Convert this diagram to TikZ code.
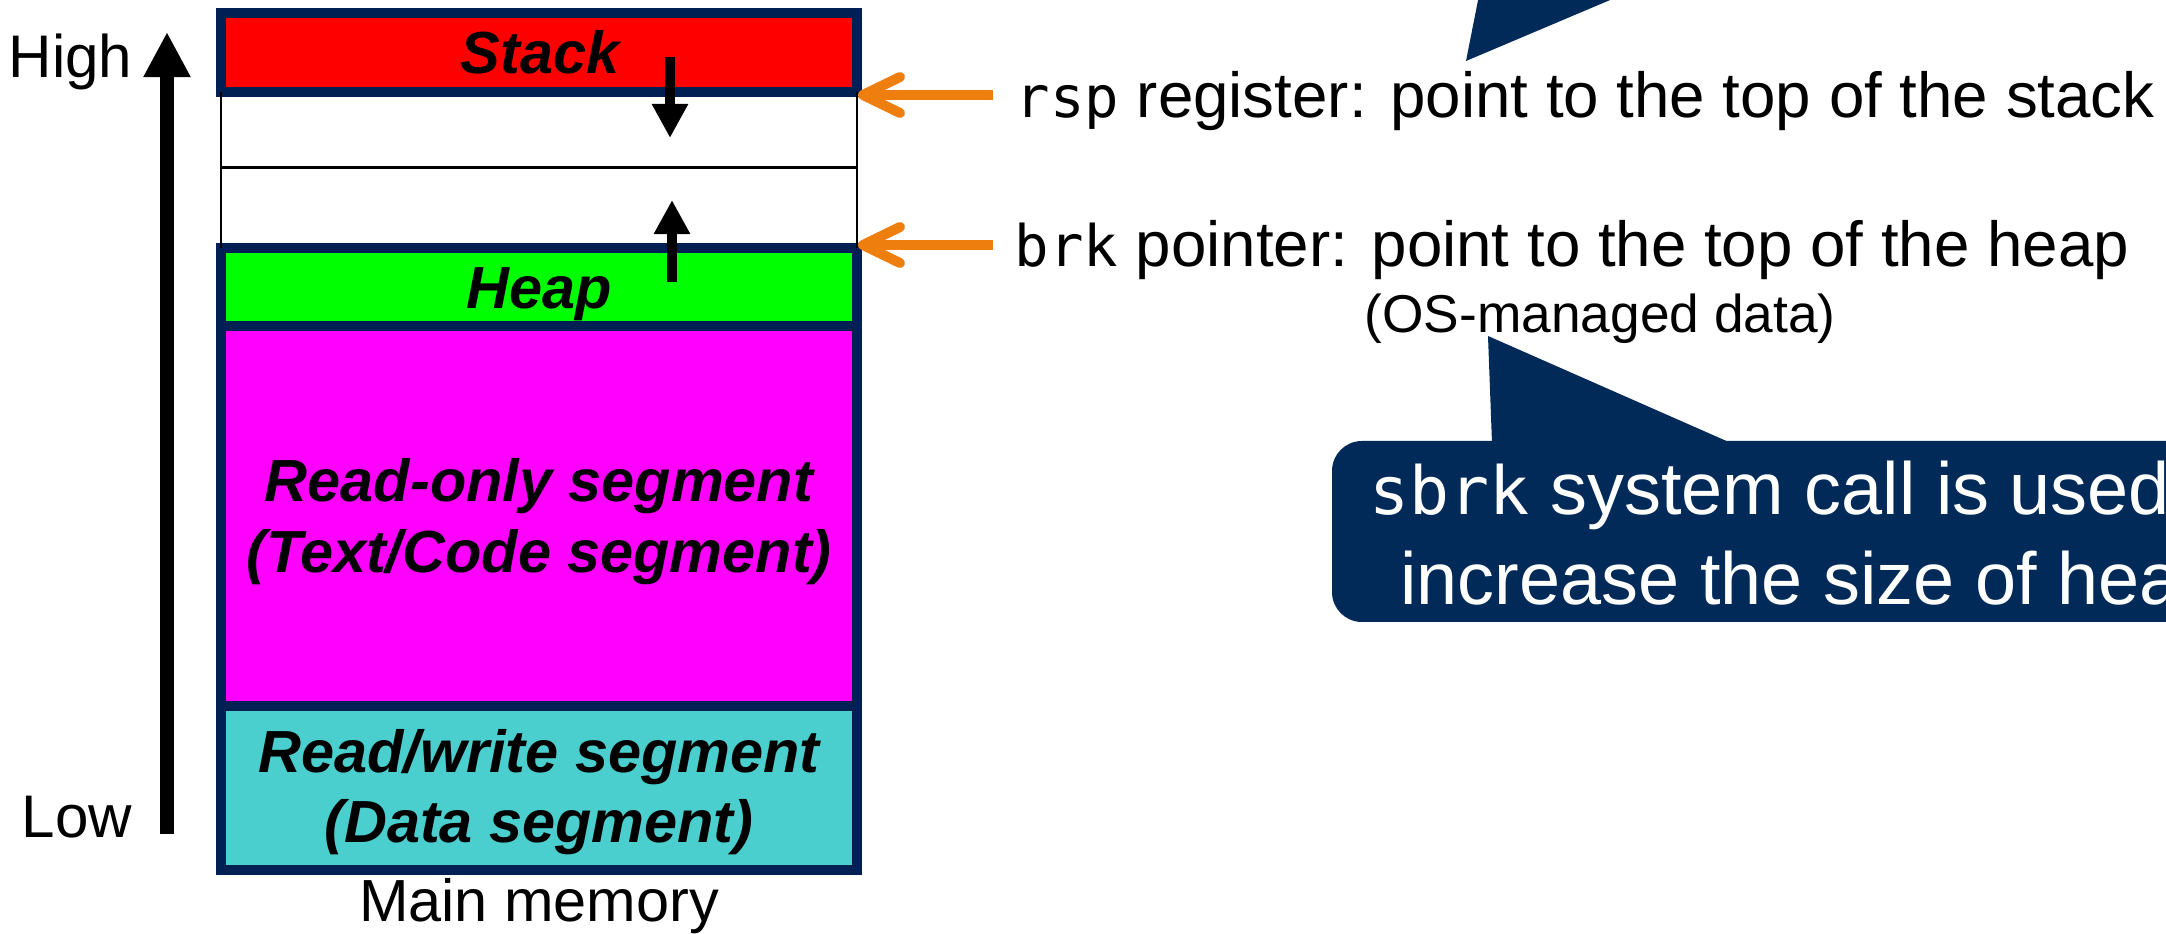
\documentclass[tikz,border=0pt]{standalone}
\usepackage{fontspec}
\setmainfont{Liberation Sans}
\newfontfamily\codefont[Scale=0.9]{DejaVu Sans Mono}
\usetikzlibrary{arrows.meta}

\definecolor{memborder}{RGB}{0,31,82}
\definecolor{stackred}{RGB}{255,0,0}
\definecolor{heapgreen}{RGB}{0,255,0}
\definecolor{textmag}{RGB}{255,0,255}
\definecolor{datateal}{RGB}{74,206,206}
\definecolor{ptrorange}{RGB}{238,127,14}
\definecolor{calloutnavy}{RGB}{2,42,88}

\begin{document}
\begin{tikzpicture}[x=0.01cm,y=-0.01cm,
  segbox/.style={draw=memborder, line width=2.85pt, inner sep=0pt, outer sep=0pt,
                 minimum width=6.36cm},
  seglabel/.style={font=\fontsize{16.9}{20.3}\selectfont\bfseries\itshape,
                   inner sep=0pt, anchor=base},
  sidelabel/.style={font=\fontsize{17.1}{20.5}\selectfont, inner sep=0pt, anchor=base west},
  freeline/.style={line width=0.6pt},
  growarrow/.style={line width=3.1pt, -{Triangle[length=9.7pt,width=9.7pt]}},
  axisarrow/.style={line width=4.1pt, -{Triangle[length=12.8pt,width=12.5pt]}},
  ptrline/.style={draw=ptrorange, line width=2.85pt},
  ptrbarb/.style={ptrline, line cap=round, line join=round},
  ptrtext/.style={font=\fontsize{18.1}{21.7}\selectfont, inner sep=0pt, anchor=base west},
  notetext/.style={font=\fontsize{15.15}{18.2}\selectfont, inner sep=0pt, anchor=base west},
  callouttext/.style={font=\fontsize{21}{25}\selectfont, text=white, inner sep=0pt, anchor=base},
]
\useasboundingbox (0,0) rectangle (2166,934);
\clip (0,0) rectangle (2166,934);

% ---- address axis ----
\coordinate (axislow) at (167,834);
\coordinate (axishigh) at (167,32);
\draw[axisarrow] (axislow) -- (axishigh);
\node[sidelabel] (high) at (8,78) {High};
\node[sidelabel] (low) at (21,838) {Low};

% ---- memory layout ----
\node[segbox, fill=stackred, minimum height=0.785cm] (stack) at (539,52.75) {};
\node[segbox, fill=heapgreen, minimum height=0.78cm] (heap) at (539,287) {};
\node[segbox, fill=textmag, minimum height=3.8cm] (textseg) at (539,516) {};
\node[segbox, fill=datateal, minimum height=1.64cm] (dataseg) at (539,788) {};

% free space between stack and heap
\coordinate (gapmidW) at (221,168);
\coordinate (gapmidE) at (857,168);
\draw[freeline] (stack.south west) -- (heap.north west);
\draw[freeline] (stack.south east) -- (heap.north east);
\draw[line width=0.85pt] (gapmidW) -- (gapmidE);

% segment labels
\node[seglabel] (stacklbl) at (540,74) {Stack};
\node[seglabel] (heaplbl) at (539,308.5) {Heap};
\node[seglabel] (textlblA) at (539,502) {Read-only segment};
\node[seglabel] (textlblB) at (539,573) {(Text/Code segment)};
\node[seglabel] (datalblA) at (539,773) {Read/write segment};
\node[seglabel] (datalblB) at (539,843) {(Data segment)};
\node[font=\fontsize{16.9}{20.3}\selectfont, inner sep=0pt, anchor=base] (mainmem) at (539,922) {Main memory};

% growth directions
\coordinate (stackgrowA) at (670,57);
\coordinate (stackgrowB) at (670,138);
\coordinate (heapgrowA) at (672,282);
\coordinate (heapgrowB) at (672,200);
\draw[growarrow] (stackgrowA) -- (stackgrowB);
\draw[growarrow] (heapgrowA) -- (heapgrowB);

% ---- pointers ----
\node[ptrtext] (rsptext) at (1015,118) {{\codefont rsp} register: point to the top of the stack};
\node[ptrtext] (brktext) at (1014,267) {{\codefont brk} pointer: point to the top of the heap};
\node[notetext] (osnote) at (1364,333) {(OS-managed data)};

\coordinate (rsptail) at (993,95);
\coordinate (rsphead) at (863,95);
\coordinate (rspbarbA) at (900,77);
\coordinate (rspbarbB) at (900,113);
\draw[ptrline] (rsptail) -- (rsphead);
\draw[ptrbarb] (rspbarbA) -- (rsphead) -- (rspbarbB);

\coordinate (brktail) at (993,245);
\coordinate (brkhead) at (863,245);
\coordinate (brkbarbA) at (900,227);
\coordinate (brkbarbB) at (900,263);
\draw[ptrline] (brktail) -- (brkhead);
\draw[ptrbarb] (brkbarbA) -- (brkhead) -- (brkbarbB);

% ---- callouts ----
\fill[calloutnavy] (1466,61) -- (1484,-30) -- (1681,-30) -- cycle;

\fill[calloutnavy, rounded corners=8.5pt] (1332,441) rectangle (2320,622);
\fill[calloutnavy] (1492,443) -- (1488,336) -- (1731,443) -- cycle;
\node[callouttext] (sbrkA) at (1811,515) {{\codefont sbrk} system call is used to};
\node[callouttext] (sbrkB) at (1811,605) {increase the size of heap};
\end{tikzpicture}
\end{document}
